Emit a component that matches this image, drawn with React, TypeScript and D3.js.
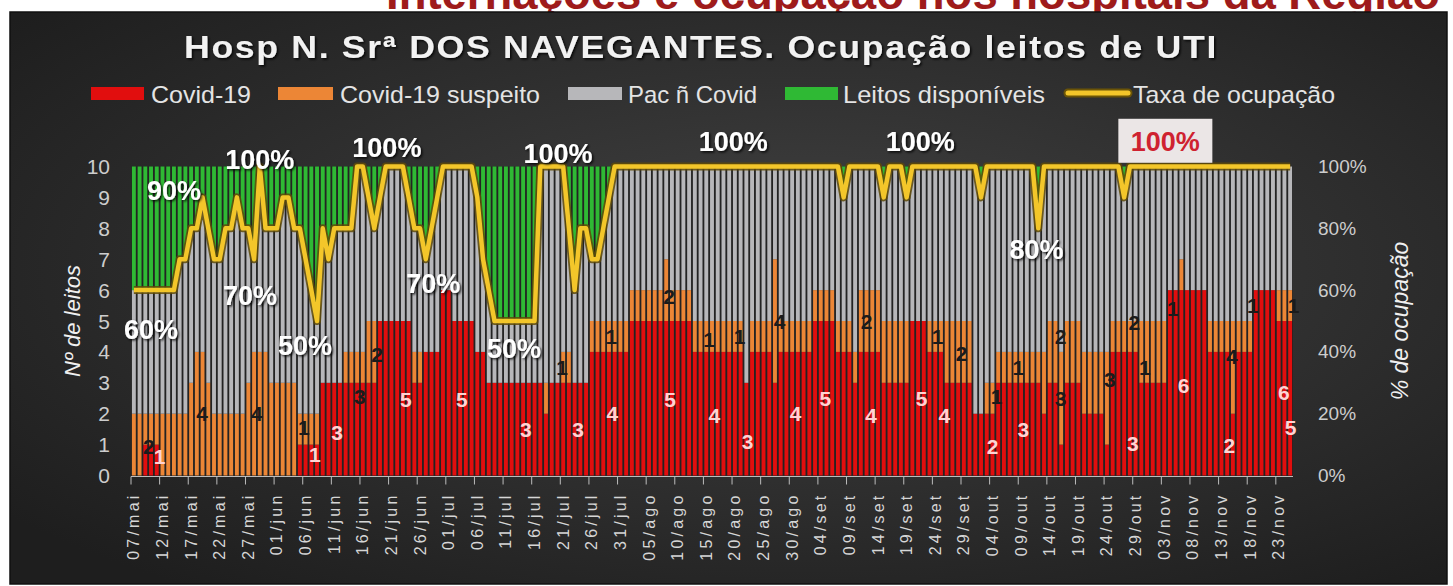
import React, { useEffect, useRef } from 'react';
import * as d3 from 'd3';

const W = 1453;
const H = 586;

// category axis labels, one every 5 days starting at 07/mai
const tickLabels = [
  '07/mai', '12/mai', '17/mai', '22/mai', '27/mai',
  '01/jun', '06/jun', '11/jun', '16/jun', '21/jun', '26/jun',
  '01/jul', '06/jul', '11/jul', '16/jul', '21/jul', '26/jul', '31/jul',
  '05/ago', '10/ago', '15/ago', '20/ago', '25/ago', '30/ago',
  '04/set', '09/set', '14/set', '19/set', '24/set', '29/set',
  '04/out', '09/out', '14/out', '19/out', '24/out', '29/out',
  '03/nov', '08/nov', '13/nov', '18/nov', '23/nov',
];

// daily beds: Covid-19 confirmed
const covid = [
  0, 0, 1, 1, 1, 0, 0, 0, 0, 0,
  0, 0, 0, 0, 0, 0, 0, 0, 0, 0,
  0, 0, 0, 0, 0, 0, 0, 0, 0, 1,
  1, 1, 1, 3, 3, 3, 3, 3, 3, 3,
  3, 3, 3, 5, 5, 5, 5, 5, 5, 3,
  3, 4, 4, 4, 6, 6, 5, 5, 5, 5,
  4, 4, 3, 3, 3, 3, 3, 3, 3, 3,
  3, 3, 2, 3, 3, 3, 3, 3, 3, 3,
  4, 4, 4, 4, 4, 4, 4, 5, 5, 5,
  5, 5, 5, 5, 5, 5, 5, 5, 4, 4,
  4, 4, 4, 4, 4, 4, 4, 3, 4, 4,
  4, 4, 3, 4, 4, 4, 4, 4, 4, 5,
  5, 5, 5, 4, 4, 4, 3, 4, 4, 4,
  4, 3, 3, 3, 3, 3, 5, 5, 5, 4,
  4, 4, 3, 3, 3, 3, 3, 2, 2, 2,
  2, 3, 3, 3, 3, 3, 3, 3, 3, 2,
  3, 3, 1, 3, 3, 3, 2, 2, 2, 2,
  1, 4, 4, 4, 4, 4, 3, 3, 3, 3,
  3, 6, 6, 6, 6, 6, 6, 6, 4, 4,
  4, 4, 2, 4, 4, 4, 6, 6, 6, 6,
  5, 5, 5,
];

// daily beds: suspected Covid-19
const suspeito = [
  2, 2, 1, 1, 1, 2, 2, 2, 2, 2,
  3, 4, 4, 3, 2, 2, 2, 2, 2, 2,
  3, 4, 4, 4, 3, 3, 3, 3, 3, 1,
  1, 1, 1, 0, 0, 0, 0, 1, 1, 1,
  1, 2, 2, 0, 0, 0, 0, 0, 0, 1,
  1, 0, 0, 0, 0, 0, 0, 0, 0, 0,
  0, 0, 0, 0, 0, 0, 0, 0, 0, 0,
  0, 0, 1, 0, 0, 1, 1, 0, 0, 0,
  1, 1, 1, 1, 1, 1, 1, 1, 1, 1,
  1, 1, 1, 2, 1, 1, 1, 1, 1, 1,
  1, 1, 1, 1, 1, 1, 1, 0, 1, 1,
  1, 1, 4, 1, 1, 1, 1, 1, 1, 1,
  1, 1, 1, 1, 1, 1, 1, 2, 2, 2,
  2, 2, 2, 2, 2, 2, 0, 0, 0, 1,
  1, 1, 2, 2, 2, 2, 2, 0, 0, 1,
  1, 1, 1, 1, 1, 1, 1, 1, 1, 2,
  2, 2, 3, 2, 2, 2, 2, 2, 2, 2,
  3, 1, 1, 1, 1, 1, 2, 2, 2, 2,
  2, 0, 0, 1, 0, 0, 0, 0, 1, 1,
  1, 1, 3, 1, 1, 1, 0, 0, 0, 0,
  1, 1, 1,
];

// daily occupancy rate (%) of the 10 ICU beds
const ocupacao = [
  60, 60, 60, 60, 60, 60, 60, 60, 70, 70,
  80, 80, 90, 80, 70, 70, 80, 80, 90, 80,
  80, 70, 100, 80, 80, 80, 90, 90, 80, 80,
  70, 60, 50, 80, 70, 80, 80, 80, 80, 100,
  100, 90, 80, 90, 100, 100, 100, 100, 90, 80,
  80, 70, 80, 90, 100, 100, 100, 100, 100, 100,
  90, 70, 60, 50, 50, 50, 50, 50, 50, 50,
  50, 100, 100, 100, 100, 100, 80, 60, 80, 80,
  70, 70, 80, 90, 100, 100, 100, 100, 100, 100,
  100, 100, 100, 100, 100, 100, 100, 100, 100, 100,
  100, 100, 100, 100, 100, 100, 100, 100, 100, 100,
  100, 100, 100, 100, 100, 100, 100, 100, 100, 100,
  100, 100, 100, 100, 90, 100, 100, 100, 100, 100,
  100, 90, 100, 100, 100, 90, 100, 100, 100, 100,
  100, 100, 100, 100, 100, 100, 100, 100, 90, 100,
  100, 100, 100, 100, 100, 100, 100, 100, 80, 100,
  100, 100, 100, 100, 100, 100, 100, 100, 100, 100,
  100, 100, 100, 90, 100, 100, 100, 100, 100, 100,
  100, 100, 100, 100, 100, 100, 100, 100, 100, 100,
  100, 100, 100, 100, 100, 100, 100, 100, 100, 100,
  100, 100, 100,
];

const TOTAL_BEDS = 10;

const seriesKeys = ['covid', 'suspeito', 'naoCovid', 'disponiveis'];
const seriesNames = ['Covid-19', 'Covid-19 suspeito', 'Pac ñ Covid', 'Leitos disponíveis'];
const seriesColors = ['#e10e0e', '#ec8636', '#b7b7ba', '#2fb934'];
const lineName = 'Taxa de ocupação';

// occupancy-rate labels: [day, pct position, text]
const rateLabels = [
  [3, 47, '60%'], [7, 92, '90%'], [22, 102, '100%'], [20.3, 58, '70%'],
  [29.9, 42, '50%'], [44.2, 106, '100%'], [52.3, 62, '70%'], [66.4, 41, '50%'],
  [74.1, 104, '100%'], [104.7, 108, '100%'], [137.4, 108, '100%'], [157.7, 73, '80%'],
];
const highlightLabel = [180.2, 108, '100%'];

// bar value labels: [day, beds position, text, series]
const barLabels = [
  [2.6, 0.95, '2', 's'], [4.5, 0.6, '1', 'c'], [11.9, 2, '4', 's'], [21.5, 2, '4', 's'],
  [29.7, 1.55, '1', 's'], [31.6, 0.68, '1', 'c'], [35.5, 1.4, '3', 'c'], [39.5, 2.55, '3', 's'],
  [42.5, 3.9, '2', 's'], [47.5, 2.45, '5', 'c'], [57.3, 2.45, '5', 'c'], [68.5, 1.5, '3', 'c'],
  [74.8, 3.5, '1', 's'], [77.6, 1.5, '3', 'c'], [83.6, 2, '4', 'c'], [83.4, 4.5, '1', 's'],
  [93.7, 2.45, '5', 'c'], [93.5, 5.8, '2', 's'], [100.5, 4.4, '1', 's'], [101.4, 1.95, '4', 'c'],
  [105.8, 4.5, '1', 's'], [107.2, 1.1, '3', 'c'], [112.8, 5, '4', 's'], [115.6, 2, '4', 'c'],
  [120.8, 2.5, '5', 'c'], [128, 5, '2', 's'], [128.8, 1.95, '4', 'c'], [137.6, 2.5, '5', 'c'],
  [140.4, 4.5, '1', 's'], [141.6, 1.95, '4', 'c'], [144.6, 3.95, '2', 's'], [150, 0.95, '2', 'c'],
  [150.7, 2.55, '1', 's'], [154.5, 3.5, '1', 's'], [155.4, 1.5, '3', 'c'], [161.9, 4.5, '2', 's'],
  [161.9, 2.5, '3', 's'], [170.5, 3.1, '3', 's'], [174.8, 4.95, '2', 's'], [174.5, 1.05, '3', 'c'],
  [176.6, 3.5, '1', 's'], [183.4, 2.9, '6', 'c'], [181.5, 5.4, '1', 's'], [191.8, 3.85, '4', 's'],
  [191.4, 0.97, '2', 'c'], [195.5, 5.5, '1', 's'], [200.9, 2.7, '6', 'c'], [202.1, 1.55, '5', 'c'],
  [202.6, 5.5, '1', 's'],
];

function App() {
  const svgRef = useRef<SVGSVGElement>(null);

  useEffect(() => {
    const svg = d3.select(svgRef.current);
    svg.selectAll('*').remove();

    const font = "'Liberation Sans', Arial, sans-serif";
    const N = covid.length;
    const rows = d3.range(N).map((i) => ({
      covid: covid[i],
      suspeito: suspeito[i],
      naoCovid: (ocupacao[i] / 100) * TOTAL_BEDS - covid[i] - suspeito[i],
      disponiveis: TOTAL_BEDS - (ocupacao[i] / 100) * TOTAL_BEDS,
    }));

    const left = 131, right = 1293, top = 166.5, bottom = 475.5;
    const x = d3.scaleBand<number>().domain(d3.range(N)).range([left, right]).paddingInner(0.32).paddingOuter(0.16);
    const step = x.step();
    const xc = (d: number) => left + step * 0.16 + step * d + x.bandwidth() / 2;
    const yBeds = d3.scaleLinear().domain([0, TOTAL_BEDS]).range([bottom, top]);
    const yPct = d3.scaleLinear().domain([0, 100]).range([bottom, top]);

    // defs
    const defs = svg.append('defs');
    const grad = defs.append('radialGradient').attr('id', 'bg').attr('cx', '55%').attr('cy', '45%').attr('r', '70%');
    grad.append('stop').attr('offset', '0%').attr('stop-color', '#424242');
    grad.append('stop').attr('offset', '100%').attr('stop-color', '#1e1e1e');
    const sh = defs.append('filter').attr('id', 'shadow').attr('x', '-20%').attr('y', '-20%').attr('width', '140%').attr('height', '140%');
    sh.append('feDropShadow').attr('dx', 1.5).attr('dy', 1.5).attr('stdDeviation', 1).attr('flood-color', '#000').attr('flood-opacity', 0.85);

    svg.append('rect').attr('width', W).attr('height', H).attr('fill', '#ffffff');

    // headline of the page, almost fully cut off above the chart
    svg.append('text')
      .attr('x', 386).attr('y', 9)
      .attr('textLength', 1054).attr('lengthAdjust', 'spacingAndGlyphs')
      .style('font-family', font).style('font-weight', 'bold').style('font-size', '46px')
      .style('fill', '#9e1b1b')
      .text('Internações e ocupação nos hospitais da Região');

    // chart panel
    svg.append('rect').attr('x', 10).attr('y', 12).attr('width', 1437).attr('height', 572)
      .attr('fill', 'url(#bg)').attr('stroke', '#111').attr('stroke-width', 1.5);

    // title
    svg.append('text')
      .attr('x', 184).attr('y', 58)
      .attr('textLength', 1034).attr('lengthAdjust', 'spacingAndGlyphs')
      .attr('filter', 'url(#shadow)')
      .style('font-family', font).style('font-weight', 'bold').style('font-size', '32px')
      .style('letter-spacing', '1.5px')
      .style('fill', '#f2f2f2')
      .text('Hosp N. Srª DOS NAVEGANTES. Ocupação leitos de UTI');

    // legend
    const legendItems = [
      { sw: [91, 144], tx: [151, 251], color: seriesColors[0], label: seriesNames[0], line: false },
      { sw: [278, 333], tx: [340, 540], color: seriesColors[1], label: seriesNames[1], line: false },
      { sw: [568, 622], tx: [628, 757], color: seriesColors[2], label: seriesNames[2], line: false },
      { sw: [785, 838], tx: [843, 1045], color: seriesColors[3], label: seriesNames[3], line: false },
      { sw: [1068, 1128], tx: [1133, 1335], color: '#f3c62a', label: lineName, line: true },
    ];
    const lg = svg.append('g');
    legendItems.forEach((it) => {
      if (it.line) {
        lg.append('line').attr('x1', it.sw[0]).attr('x2', it.sw[1]).attr('y1', 93).attr('y2', 93)
          .attr('stroke', '#6b5407').attr('stroke-width', 9).attr('stroke-linecap', 'round');
        lg.append('line').attr('x1', it.sw[0]).attr('x2', it.sw[1]).attr('y1', 93).attr('y2', 93)
          .attr('stroke', it.color).attr('stroke-width', 5).attr('stroke-linecap', 'round');
      } else {
        lg.append('rect').attr('x', it.sw[0]).attr('y', 87).attr('width', it.sw[1] - it.sw[0]).attr('height', 13)
          .attr('fill', it.color);
      }
      lg.append('text').attr('x', it.tx[0]).attr('y', 103)
        .attr('textLength', it.tx[1] - it.tx[0]).attr('lengthAdjust', 'spacingAndGlyphs')
        .style('font-family', font).style('font-size', '24px').style('fill', '#e4e4e4')
        .text(it.label);
    });

    // plot background (shows as dark gaps between bars)
    svg.append('rect').attr('x', left).attr('y', top).attr('width', right - left).attr('height', bottom - top)
      .attr('fill', '#232323');

    // stacked bars
    const stacked = d3.stack<any>().keys(seriesKeys)(rows);
    svg.append('g').selectAll('g').data(stacked).enter().append('g')
      .attr('fill', (_, i) => seriesColors[i])
      .selectAll('rect').data((d) => d).enter().append('rect')
      .attr('x', (_, i) => x(i) as number)
      .attr('width', x.bandwidth())
      .attr('y', (d) => yBeds(d[1]))
      .attr('height', (d) => Math.max(0, yBeds(d[0]) - yBeds(d[1])));

    // x axis
    const ax = svg.append('g');
    ax.append('line').attr('x1', left).attr('x2', right).attr('y1', bottom + 1).attr('y2', bottom + 1)
      .attr('stroke', '#bdbdbd').attr('stroke-width', 1);
    for (let i = 0; i <= N; i += 5) {
      const tx = left + step * i;
      ax.append('line').attr('x1', tx).attr('x2', tx).attr('y1', bottom + 1).attr('y2', bottom + 9)
        .attr('stroke', '#bdbdbd').attr('stroke-width', 1);
    }
    tickLabels.forEach((lab, k) => {
      const cx = xc(k * 5);
      ax.append('text')
        .attr('transform', `translate(${cx},${bottom + 17}) rotate(-90)`)
        .attr('text-anchor', 'end').attr('dominant-baseline', 'central')
        .style('font-family', font).style('font-size', '16px').style('letter-spacing', '3.2px')
        .style('fill', '#d6d6d6')
        .text(lab);
    });

    // left axis
    const ly = svg.append('g');
    d3.range(0, TOTAL_BEDS + 1).forEach((v) => {
      ly.append('text').attr('x', 110).attr('y', yBeds(v)).attr('text-anchor', 'end')
        .attr('dominant-baseline', 'central')
        .style('font-family', font).style('font-size', '21px').style('fill', '#cdcdcd')
        .text(v);
    });
    svg.append('text')
      .attr('transform', `translate(72,${(top + bottom) / 2}) rotate(-90)`)
      .attr('text-anchor', 'middle').attr('dominant-baseline', 'central')
      .style('font-family', font).style('font-style', 'italic').style('font-size', '22px')
      .style('fill', '#f0f0f0')
      .text('Nº de leitos');

    // right axis
    d3.range(0, 101, 20).forEach((v) => {
      svg.append('text').attr('x', 1318).attr('y', yPct(v)).attr('dominant-baseline', 'central')
        .style('font-family', font).style('font-size', '19px').style('fill', '#cdcdcd')
        .text(`${v}%`);
    });
    svg.append('text')
      .attr('transform', `translate(1400,${(top + bottom) / 2}) rotate(-90)`)
      .attr('text-anchor', 'middle').attr('dominant-baseline', 'central')
      .style('font-family', font).style('font-style', 'italic').style('font-size', '23px')
      .style('fill', '#f0f0f0')
      .text('% de ocupação');

    // bar value labels
    svg.append('g').selectAll('text').data(barLabels).enter().append('text')
      .attr('x', (d) => xc(d[0] as number)).attr('y', (d) => yBeds(d[1] as number))
      .attr('text-anchor', 'middle').attr('dominant-baseline', 'central')
      .style('font-family', font).style('font-size', '21px').style('font-weight', 'bold')
      .style('fill', (d) => (d[3] === 'c' ? '#ffd3d3' : '#1b1b1b'))
      .text((d) => d[2] as string);

    // occupancy line
    const line = d3.line<number>().x((_, i) => xc(i)).y((d) => yPct(d)).curve(d3.curveLinear);
    svg.append('path').attr('d', line(ocupacao)).attr('fill', 'none')
      .attr('stroke', '#5e4a08').attr('stroke-width', 8).attr('stroke-linejoin', 'round').attr('stroke-opacity', 0.85);
    svg.append('path').attr('d', line(ocupacao)).attr('fill', 'none')
      .attr('stroke', '#f3c62a').attr('stroke-width', 4.5).attr('stroke-linejoin', 'round');

    // occupancy labels
    svg.append('g').selectAll('text').data(rateLabels).enter().append('text')
      .attr('x', (d) => xc(d[0] as number)).attr('y', (d) => yPct(d[1] as number))
      .attr('text-anchor', 'middle').attr('dominant-baseline', 'central')
      .attr('filter', 'url(#shadow)')
      .style('font-family', font).style('font-size', '27px').style('font-weight', 'bold')
      .style('fill', '#ffffff')
      .text((d) => d[2] as string);

    const hx = xc(highlightLabel[0] as number), hy = yPct(highlightLabel[1] as number);
    svg.append('rect').attr('x', hx - 47).attr('y', hy - 23).attr('width', 94).attr('height', 44)
      .attr('fill', '#ebe6e6');
    svg.append('text').attr('x', hx).attr('y', hy)
      .attr('text-anchor', 'middle').attr('dominant-baseline', 'central')
      .style('font-family', font).style('font-size', '27px').style('font-weight', 'bold')
      .style('fill', '#cf2230')
      .text(highlightLabel[2] as string);
  }, []);

  return (
    <svg ref={svgRef} width={W} height={H}
      style={{ position: 'absolute', left: 0, top: 0, display: 'block' }} />
  );
}

export default App;
